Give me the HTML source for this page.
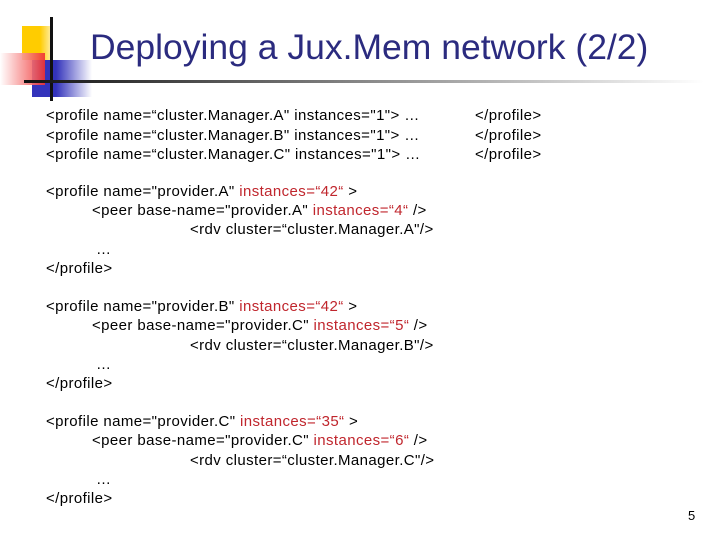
<!DOCTYPE html>
<html><head><style>
body{margin:0;width:720px;height:540px;background:#fff;position:relative;overflow:hidden;font-family:"Liberation Sans",sans-serif}
.t{position:absolute;white-space:pre;font-size:15px;line-height:18px;color:#000;letter-spacing:0.4px}
.r{color:#c0262d}
</style></head><body>
<div style="position:absolute;left:22px;top:26px;width:30px;height:34px;background:linear-gradient(90deg,#ffcc00 60%,#fff0b0)"></div>
<div style="position:absolute;left:32px;top:60px;width:60px;height:37px;background:linear-gradient(90deg,#3333bb 40%,#fff)"></div>
<div style="position:absolute;left:0;top:53px;width:45px;height:32px;background:linear-gradient(90deg,#fff,#f03030);opacity:.9"></div>
<div style="position:absolute;left:50px;top:17px;width:3px;height:84px;background:#111"></div>
<div style="position:absolute;left:24px;top:80px;width:680px;height:3px;background:linear-gradient(90deg,#111,#888 50%,#fff)"></div>
<div style="position:absolute;left:90px;top:27px;font-size:35.5px;color:#2b2b7f;white-space:pre">Deploying a Jux.Mem network (2/2)</div>
<div class="t" style="left:46px;top:106px;line-height:19.5px">&lt;profile name=“cluster.Manager.A" instances="1"&gt; …
&lt;profile name=“cluster.Manager.B" instances="1"&gt; …
&lt;profile name=“cluster.Manager.C" instances="1"&gt; …</div>
<div class="t" style="left:475px;top:106px;line-height:19.5px">&lt;/profile&gt;
&lt;/profile&gt;
&lt;/profile&gt;</div>

<div class="t" style="left:46px;top:183px">&lt;profile name="provider.A" <span class="r">instances=“42“</span> &gt;</div>
<div class="t" style="left:92px;top:202px">&lt;peer base-name="provider.A" <span class="r">instances=“4“</span> /&gt;</div>
<div class="t" style="left:190px;top:221px">&lt;rdv cluster=“cluster.Manager.A"/&gt;</div>
<div class="t" style="left:96px;top:241px">…</div>
<div class="t" style="left:46px;top:260px">&lt;/profile&gt;</div>

<div class="t" style="left:46px;top:298px">&lt;profile name="provider.B" <span class="r">instances=“42“</span> &gt;</div>
<div class="t" style="left:92px;top:317px">&lt;peer base-name="provider.C" <span class="r">instances=“5“</span> /&gt;</div>
<div class="t" style="left:190px;top:337px">&lt;rdv cluster=“cluster.Manager.B"/&gt;</div>
<div class="t" style="left:96px;top:356px">…</div>
<div class="t" style="left:46px;top:375px">&lt;/profile&gt;</div>

<div class="t" style="left:46px;top:413px">&lt;profile name="provider.C" <span class="r">instances=“35“</span> &gt;</div>
<div class="t" style="left:92px;top:432px">&lt;peer base-name="provider.C" <span class="r">instances=“6“</span> /&gt;</div>
<div class="t" style="left:190px;top:452px">&lt;rdv cluster=“cluster.Manager.C"/&gt;</div>
<div class="t" style="left:96px;top:471px">…</div>
<div class="t" style="left:46px;top:490px">&lt;/profile&gt;</div>
<div class="t" style="left:688px;top:507px;font-size:13px">5</div>
</body></html>
